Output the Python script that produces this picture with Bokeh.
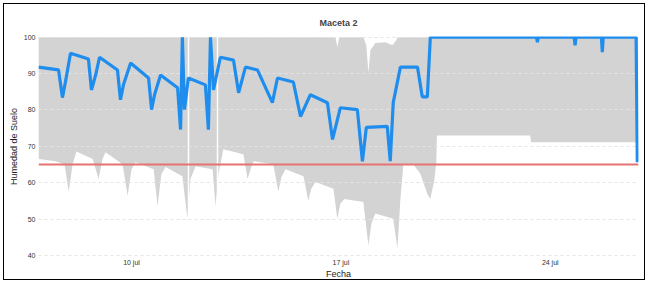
from bokeh.plotting import figure
from bokeh.models import Range1d, FixedTicker, Span, CustomJSTickFormatter
from bokeh.embed import file_html
from bokeh.resources import INLINE

title_text = "Maceta 2"
x_label = "Fecha"
y_label = "Humedad de Suelo"
x_tick_days = [0, 7, 14]
x_tick_labels = ["10 jul", "17 jul", "24 jul"]
y_ticks = [40, 50, 60, 70, 80, 90, 100]
threshold = 65

# soil moisture series (days since 10 jul, %)
moist_day = [-3.11, -2.44, -2.31, -2.21, -2.04, -1.44, -1.34, -1.20, -1.07, -0.47, -0.37, -0.27,
             -0.03, 0.57, 0.67, 0.77, 0.97, 1.54, 1.64, 1.70, 1.77, 1.90, 2.47, 2.57, 2.64,
             2.74, 2.97, 3.41, 3.58, 3.81, 4.21, 4.71, 4.88, 5.41, 5.65, 5.98, 6.55, 6.72,
             6.98, 7.55, 7.72, 7.85, 8.55, 8.65, 8.75, 8.99, 9.56, 9.72, 9.89, 9.99,
             13.54, 13.57, 13.60, 14.80, 14.83, 14.86, 15.71, 15.74, 15.77, 16.87, 16.91]
moist_val = [91.8, 91.0, 83.4, 87.7, 95.6, 94.0, 85.5, 89.6, 94.5, 91.0, 82.8, 86.9,
             92.9, 88.8, 80.1, 84.2, 89.6, 86.1, 74.6, 100.0, 80.1, 88.8, 86.9, 74.6, 100.0,
             85.5, 94.5, 93.7, 84.7, 91.8, 91.0, 82.0, 88.8, 87.7, 78.2, 84.2, 82.0, 71.9,
             80.6, 80.1, 65.9, 75.2, 75.5, 65.9, 82.0, 91.8, 91.8, 83.6, 83.6, 100.0,
             100.0, 98.6, 100.0, 100.0, 97.8, 100.0, 100.0, 95.9, 100.0, 100.0, 65.6]

# grey band: upper edge and lower edge
band_high_day = [-3.11, 6.82, 6.88, 6.95, 7.75, 7.85, 7.92, 7.99, 8.15, 8.49, 8.72, 8.85, 8.89, 16.94]
band_high_val = [100.0, 100.0, 97.3, 100.0, 100.0, 97.8, 90.2, 96.5, 98.4, 98.6, 97.8, 99.2, 100.0, 100.0]
band_low_day = [-3.11, -2.54, -2.24, -2.10, -1.97, -1.84, -1.30, -1.10, -0.97, -0.87, -0.30, -0.13,
                0.00, 0.13, 0.74, 0.87, 1.00, 1.14, 1.70, 1.87, 1.97, 2.14, 2.71, 2.81, 2.91,
                3.07, 3.74, 3.88, 3.98, 4.08, 4.74, 4.91, 5.01, 5.15, 5.75, 5.91, 6.01, 6.15,
                6.75, 6.88, 6.98, 7.12, 7.75, 7.92, 8.02, 8.15, 8.75, 8.89, 8.99, 9.09, 9.42,
                9.66, 9.89, 9.99, 10.12, 10.19, 10.21, 13.33, 13.36, 16.94]
band_low_val = [66.5, 65.9, 65.1, 57.5, 65.1, 68.6, 66.5, 61.0, 66.5, 68.4, 65.1, 56.4,
                63.7, 65.6, 63.7, 53.6, 62.4, 64.3, 61.8, 50.1, 61.0, 64.5, 63.7, 53.6, 62.4,
                69.2, 67.8, 61.0, 63.7, 65.9, 65.1, 57.5, 61.5, 63.7, 61.8, 55.0, 58.3, 60.2,
                58.3, 50.1, 54.2, 55.5, 54.7, 42.7, 48.7, 51.5, 50.1, 41.9, 55.5, 65.1, 65.1,
                62.4, 56.9, 55.5, 60.5, 65.6, 73.0, 73.0, 71.1, 71.1]
gap_days = [1.90, 2.87]

font = "Liberation Sans"

p = figure(width=642, height=277, output_backend="svg", toolbar_location=None,
           x_range=Range1d(-3.11, 16.95), y_range=Range1d(39.7, 100.2),
           min_border_left=34, min_border_right=8, min_border_top=32, min_border_bottom=20)
p.styles = {"border": "1px solid #000000", "margin": "3px 0px 0px 3px"}

p.title.text = title_text
p.title.align = "center"
p.title.text_font = font
p.title.text_font_size = "9px"
p.title.text_font_style = "bold"
p.title.standoff = 17

p.outline_line_color = None

band_x = band_high_day + band_low_day[::-1]
band_y = band_high_val + band_low_val[::-1]
band = p.patch(band_x, band_y, fill_color="#d3d3d3", line_color=None)
band.level = "image"

p.vspan(x=gap_days, line_color="white", line_width=1.5, level="underlay")

p.ygrid.ticker = FixedTicker(ticks=y_ticks)
p.ygrid.grid_line_color = "#e4e4e4"
p.ygrid.grid_line_dash = "3 3"
p.ygrid.grid_line_width = 1
p.xgrid.grid_line_color = None

p.add_layout(Span(location=threshold, dimension="width", line_color="#e57373", line_width=2.2))

p.line(moist_day, moist_val, line_color="#1f8ded", line_width=3.2)

p.xaxis.ticker = FixedTicker(ticks=x_tick_days)
p.xaxis.formatter = CustomJSTickFormatter(
    args=dict(days=x_tick_days, labels=x_tick_labels),
    code="const i = days.indexOf(tick); return i >= 0 ? labels[i] : '';")
p.yaxis.ticker = FixedTicker(ticks=y_ticks)

for ax in (p.xaxis[0], p.yaxis[0]):
    ax.axis_line_color = None
    ax.major_tick_line_color = None
    ax.minor_tick_line_color = None
    ax.major_tick_out = 0
    ax.major_tick_in = 0
    ax.minor_tick_out = 0
    ax.minor_tick_in = 0
    ax.major_label_text_font = font
    ax.major_label_text_font_size = "7px"
    ax.major_label_text_color = "#333333"
    ax.axis_label_text_font = font
    ax.axis_label_text_font_size = "9px"
    ax.axis_label_text_font_style = "normal"
    ax.axis_label_text_color = "#222222"
    ax.major_label_standoff = 3
    ax.axis_label_standoff = 2

p.xaxis.axis_label = x_label
p.yaxis.axis_label = y_label
p.xaxis.major_label_text_color = "#333333"
p.xaxis.major_label_standoff = 2
p.xaxis.axis_label_standoff = 0

open("out.html", "w").write(file_html(p, INLINE))
